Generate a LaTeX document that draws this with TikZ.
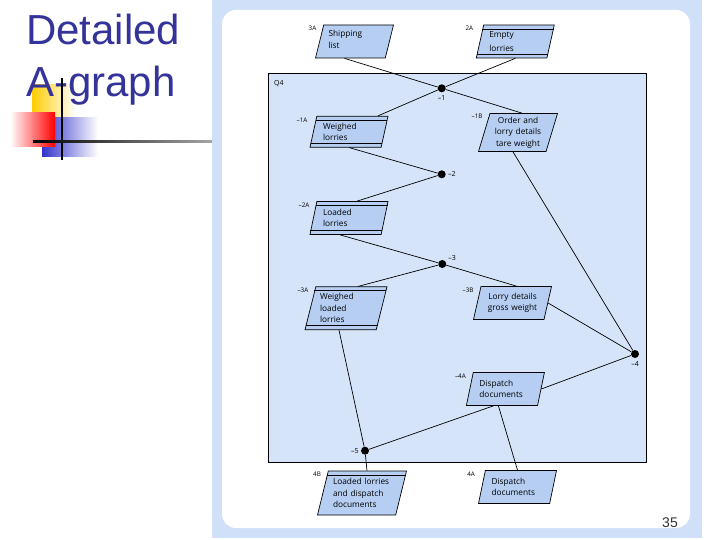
\documentclass[tikz,border=0pt]{standalone}
\usepackage{fontspec}
\usepackage{tikz}
\usetikzlibrary{shapes.geometric}
\usetikzlibrary{positioning}
\usetikzlibrary{calc}
\newfontfamily\titlefont{Liberation Sans}
\newfontfamily\boxfont{Open Sans}
\definecolor{panelblue}{RGB}{207,224,248}
\definecolor{areablue}{RGB}{214,228,249}
\definecolor{docblue}{RGB}{181,206,242}
\definecolor{titleblue}{RGB}{51,51,153}
\definecolor{decoyellow}{RGB}{255,204,0}
\definecolor{decored}{RGB}{255,0,0}
\definecolor{decoblue}{RGB}{51,51,204}
\newcommand{\storetop}[1]{\draw[line width=0.7pt] ($(#1.top left corner)!4.5pt!(#1.bottom left corner)$) -- ($(#1.top right corner)!4.5pt!(#1.bottom right corner)$);}
\newcommand{\storebottom}[1]{\draw[line width=0.7pt] ($(#1.bottom left corner)!4.5pt!(#1.top left corner)$) -- ($(#1.bottom right corner)!4.5pt!(#1.top right corner)$);}

\begin{document}
\begin{tikzpicture}[x=1pt,y=-1pt,
    doc/.style={trapezium,trapezium left angle=71,trapezium right angle=109,
      trapezium stretches body=true,draw,fill=docblue,line width=0.7pt,
      minimum width=78pt,minimum height=33pt,inner xsep=0pt,inner ysep=1pt,
      text width=52pt,align=left,font=\boxfont\fontsize{8.3}{11.5}\selectfont},
    tag/.style={font=\boxfont\fontsize{6.3}{7}\selectfont,inner sep=0pt},
    junc/.style={circle,fill=black,inner sep=0pt,minimum size=8pt},
    jlabel/.style={font=\boxfont\fontsize{7}{8}\selectfont,inner sep=0pt},
    link/.style={line width=0.7pt}]
    \useasboundingbox (0,0) rectangle (720,540);

    \shade[left color=decoyellow,middle color=decoyellow,right color=white] (32,85) rectangle (75,118);
    \shade[left color=decoblue,middle color=decoblue,right color=white] (42,118) rectangle (98,157);
    \shade[left color=white,right color=decored] (10,113) rectangle (55,147);
    \node[anchor=base west,inner sep=0pt,text=titleblue,font=\titlefont\fontsize{42}{50}\selectfont] (title1) at (26,45) {Detailed};
    \node[anchor=base west,inner sep=0pt,text=titleblue,font=\titlefont\fontsize{42}{50}\selectfont] (title2) at (26,97) {A-graph};
    \fill[black] (60.7,78) rectangle (62.7,160);
    \shade[left color=black,right color=gray!70] (33,140.7) rectangle (212,142.7);

    \fill[panelblue] (212,0) rectangle (702,538);
    \fill[white,rounded corners=14pt] (222,10) rectangle (690,528);
    \draw[fill=areablue,line width=0.8pt] (268,73) rectangle (646,462);
    \node[tag,anchor=west,font=\boxfont\fontsize{7}{8}\selectfont] (q4) at (274,84) {Q4};
    \node[font=\titlefont\fontsize{14}{16}\selectfont,text=black!80] (page) at (670,523) {35};

    \node[doc] (ship) at (354.5,41.5) {Shipping\\list\vspace{4pt}};
    \node[doc] (empty) at (515.3,41.5) {Empty\\[2pt]lorries};
    \node[doc,minimum height=31pt] (weigh) at (349,131.7) {Weighed\\lorries};
    \node[doc,minimum height=38pt,minimum width=79pt,align=center] (order) at (518,132.5) {Order and\\lorry details\\tare weight};
    \node[doc] (loaded) at (349,218) {Loaded\\lorries};
    \node[doc,minimum height=43pt,minimum width=82pt] (wll) at (346,308.3) {Weighed\\loaded\\lorries};
    \node[doc,align=center] (lorry) at (512.5,303) {Lorry details\\gross weight};
    \node[doc] (disp) at (505.4,389) {Dispatch\\documents};
    \node[doc,minimum height=44pt,minimum width=89pt,text width=58pt] (outB) at (362,493) {Loaded lorries\\and dispatch\\documents};
    \node[doc] (outA) at (517.5,487) {Dispatch\\documents};
    \storetop{empty} \storebottom{empty}
    \storetop{weigh} \storebottom{weigh}
    \storetop{loaded} \storebottom{loaded}
    \storetop{wll} \storebottom{wll}
    \storetop{outB}

    \node[tag,left=7pt of ship.top left corner,yshift=-4pt] (shipT) {3A};
    \node[tag,left=10pt of empty.top left corner,yshift=-4pt] (emptyT) {2A};
    \node[tag,left=9pt of weigh.top left corner,yshift=-4pt] (weighT) {–1A};
    \node[tag,left=7pt of order.top left corner,yshift=-3pt] (orderT) {–1B};
    \node[tag,left=7pt of loaded.top left corner,yshift=-4pt] (loadedT) {–2A};
    \node[tag,left=7pt of wll.top left corner,yshift=-4pt] (wllT) {–3A};
    \node[tag,left=7pt of lorry.top left corner,yshift=-4pt] (lorryT) {–3B};
    \node[tag,left=7pt of disp.top left corner,yshift=-4pt] (dispT) {–4A};
    \node[tag,left=7pt of outB.top left corner,yshift=-4pt] (outBT) {4B};
    \node[tag,left=10pt of outA.top left corner,yshift=-4pt] (outAT) {4A};

    \node[junc] (j1) at (441.7,88.3) {};
    \node[junc] (j2) at (441.7,174.3) {};
    \node[junc] (j3) at (442.3,264) {};
    \node[junc] (j4) at (635,354) {};
    \node[junc] (j5) at (365,450.7) {};
    \node[jlabel,below=3pt of j1] (j1L) {–1};
    \node[jlabel,right=2pt of j2] (j2L) {–2};
    \node[jlabel,above right=0pt and 3pt of j3] (j3L) {–3};
    \node[jlabel,below=3pt of j4] (j4L) {–4};
    \node[jlabel,left=2pt of j5] (j5L) {–5};

    \draw[link] ([xshift=-10pt]ship.south) -- (j1);
    \draw[link] (empty.south) -- (j1);
    \draw[link] (j1) -- ([xshift=29pt]weigh.north);
    \draw[link] (j1) -- ([xshift=4pt]order.north);
    \draw[link] (weigh.south) -- (j2);
    \draw[link] (j2) -- ([xshift=8pt]loaded.north);
    \draw[link] ([xshift=-5pt]order.south) -- (j4);
    \draw[link] ([xshift=-9pt]loaded.south) -- (j3);
    \draw[link] (j3) -- ([xshift=12pt]wll.north);
    \draw[link] (j3) -- ([xshift=4pt]lorry.north);
    \draw[link] (lorry.east) -- (j4);
    \draw[link] (j4) -- (disp.east);
    \draw[link] ([xshift=-12pt]disp.south) -- (j5);
    \draw[link] ([xshift=-7pt]disp.south) -- (outA.north);
    \draw[link] ([xshift=-7pt]wll.south) -- (j5);
    \draw[link] (j5) -- ([xshift=5pt]outB.north);
\end{tikzpicture}
\end{document}
